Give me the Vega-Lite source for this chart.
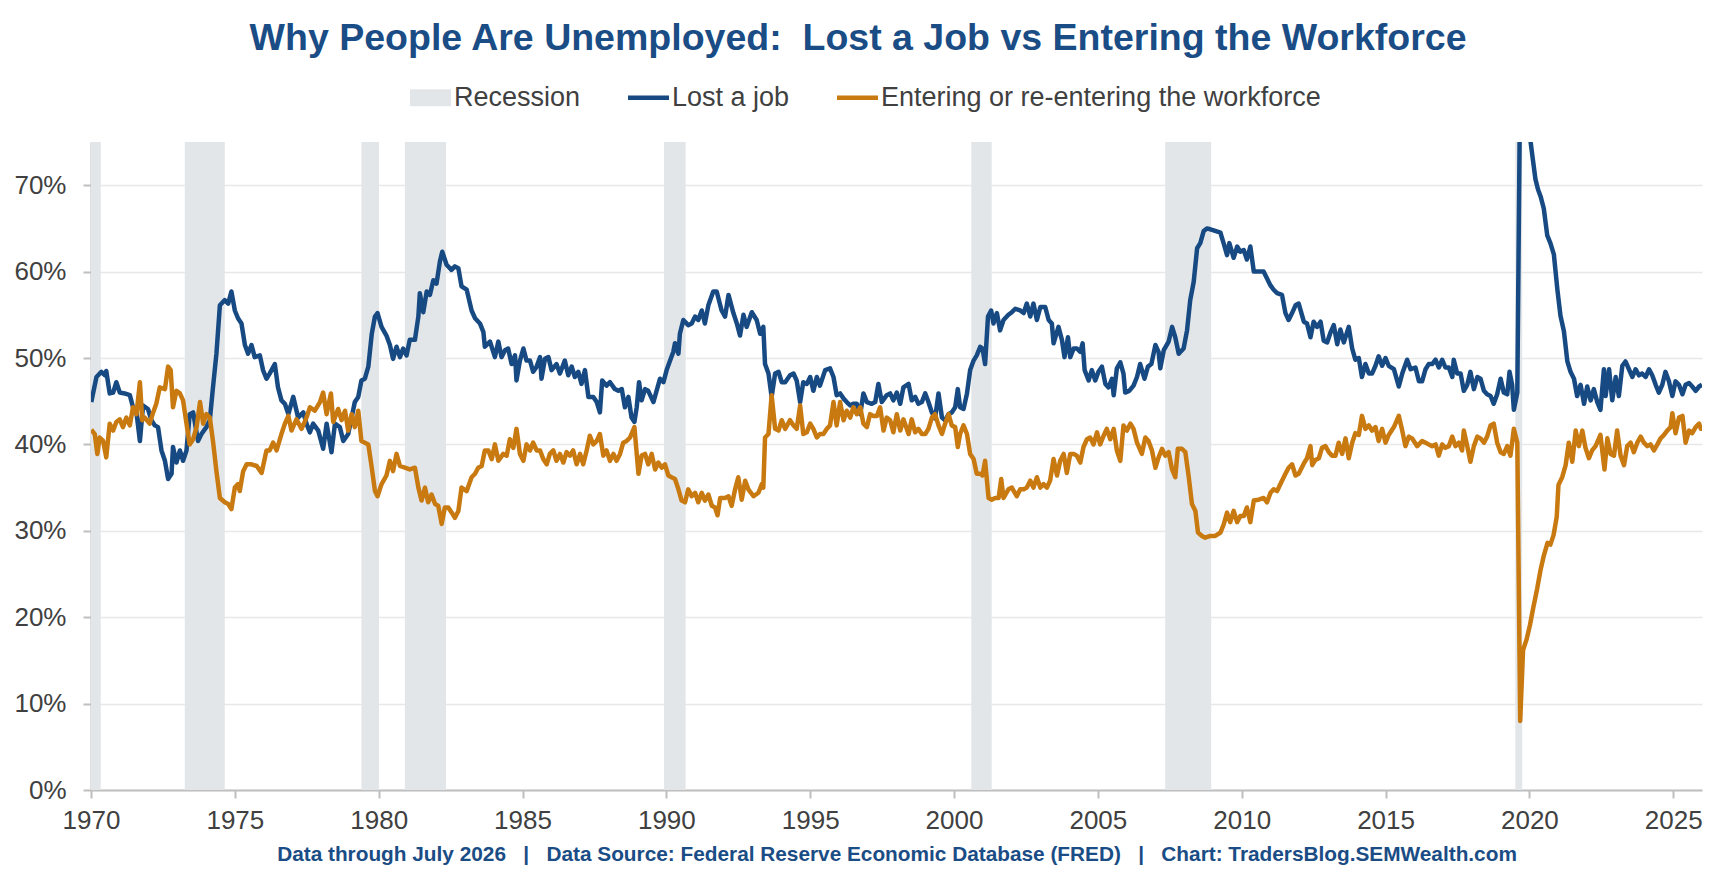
{
  "$schema": "https://vega.github.io/schema/vega-lite/v6.json",
  "description": "Share of the unemployed who lost a job vs who are entering or re-entering the workforce, with recessions shaded.",
  "width": 1611,
  "height": 648,
  "autosize": {"type": "none"},
  "padding": {"left": 91, "top": 142, "right": 23, "bottom": 102},
  "background": "white",
  "config": {
    "view": {"stroke": null},
    "font": "Liberation Sans"
  },
  "title": {
    "text": "Why People Are Unemployed:\u00a0 Lost a Job vs Entering the Workforce",
    "anchor": "middle",
    "frame": "bounds",
    "fontSize": 37.5,
    "fontWeight": "bold",
    "color": "#1a4c85",
    "font": "Liberation Sans",
    "offset": 20
  },
  "datasets": {
    "recessions": [
      {"t": 1970.0, "t2": 1970.34},
      {"t": 1973.26, "t2": 1974.65},
      {"t": 1979.4, "t2": 1980.01},
      {"t": 1980.91, "t2": 1982.34},
      {"t": 1989.92, "t2": 1990.67},
      {"t": 2000.6, "t2": 2001.31},
      {"t": 2007.34, "t2": 2008.94},
      {"t": 2019.51, "t2": 2019.75}
    ],
    "lost": [
      {"t":1970.01,"v":44.9},{"t":1970.19,"v":47.8},{"t":1970.36,"v":48.4},{"t":1970.48,"v":48.0},{"t":1970.53,"v":48.5},{"t":1970.65,"v":45.9},{"t":1970.77,"v":46.0},{"t":1970.88,"v":47.2},{"t":1971.0,"v":46.0},{"t":1971.17,"v":45.9},{"t":1971.35,"v":45.7},{"t":1971.46,"v":44.3},{"t":1971.58,"v":43.7},{"t":1971.7,"v":40.4},{"t":1971.81,"v":44.5},{"t":1971.98,"v":44.1},{"t":1972.1,"v":42.8},{"t":1972.22,"v":42.2},{"t":1972.33,"v":42.0},{"t":1972.45,"v":39.3},{"t":1972.57,"v":38.1},{"t":1972.68,"v":36.0},{"t":1972.8,"v":36.6},{"t":1972.85,"v":39.7},{"t":1972.97,"v":37.9},{"t":1973.09,"v":39.3},{"t":1973.2,"v":38.1},{"t":1973.32,"v":39.3},{"t":1973.43,"v":43.5},{"t":1973.55,"v":43.7},{"t":1973.72,"v":40.4},{"t":1973.84,"v":41.2},{"t":1974.01,"v":42.0},{"t":1974.13,"v":42.8},{"t":1974.24,"v":46.6},{"t":1974.36,"v":50.5},{"t":1974.48,"v":56.1},{"t":1974.65,"v":56.7},{"t":1974.77,"v":56.3},{"t":1974.88,"v":57.7},{"t":1975.0,"v":55.5},{"t":1975.11,"v":54.6},{"t":1975.23,"v":54.0},{"t":1975.35,"v":51.5},{"t":1975.46,"v":50.5},{"t":1975.58,"v":51.5},{"t":1975.69,"v":50.1},{"t":1975.87,"v":50.3},{"t":1975.98,"v":48.6},{"t":1976.1,"v":47.6},{"t":1976.21,"v":48.2},{"t":1976.39,"v":49.3},{"t":1976.5,"v":46.6},{"t":1976.62,"v":45.1},{"t":1976.74,"v":44.7},{"t":1976.86,"v":43.5},{"t":1977.03,"v":45.5},{"t":1977.2,"v":43.1},{"t":1977.38,"v":43.7},{"t":1977.49,"v":42.4},{"t":1977.61,"v":41.4},{"t":1977.72,"v":42.4},{"t":1977.9,"v":41.6},{"t":1978.07,"v":39.5},{"t":1978.19,"v":42.4},{"t":1978.36,"v":39.1},{"t":1978.48,"v":42.4},{"t":1978.65,"v":42.0},{"t":1978.77,"v":40.4},{"t":1978.94,"v":41.2},{"t":1979.06,"v":43.1},{"t":1979.17,"v":44.9},{"t":1979.29,"v":45.5},{"t":1979.4,"v":47.4},{"t":1979.52,"v":47.6},{"t":1979.64,"v":49.0},{"t":1979.76,"v":52.8},{"t":1979.87,"v":54.8},{"t":1979.96,"v":55.2},{"t":1980.1,"v":53.6},{"t":1980.27,"v":52.6},{"t":1980.39,"v":51.5},{"t":1980.5,"v":49.9},{"t":1980.62,"v":51.3},{"t":1980.74,"v":50.1},{"t":1980.85,"v":51.1},{"t":1980.97,"v":50.3},{"t":1981.08,"v":52.1},{"t":1981.26,"v":52.1},{"t":1981.38,"v":54.8},{"t":1981.43,"v":57.5},{"t":1981.55,"v":55.3},{"t":1981.67,"v":57.7},{"t":1981.78,"v":57.3},{"t":1981.9,"v":59.0},{"t":1982.01,"v":58.6},{"t":1982.13,"v":61.2},{"t":1982.21,"v":62.3},{"t":1982.36,"v":60.8},{"t":1982.53,"v":60.2},{"t":1982.65,"v":60.6},{"t":1982.77,"v":60.4},{"t":1982.88,"v":58.3},{"t":1983.06,"v":57.9},{"t":1983.23,"v":55.5},{"t":1983.35,"v":54.6},{"t":1983.52,"v":54.0},{"t":1983.64,"v":53.0},{"t":1983.69,"v":51.3},{"t":1983.87,"v":51.9},{"t":1984.04,"v":50.1},{"t":1984.16,"v":51.9},{"t":1984.27,"v":50.1},
      {"t":1984.39,"v":50.9},{"t":1984.5,"v":51.1},{"t":1984.62,"v":49.3},{"t":1984.74,"v":50.3},{"t":1984.79,"v":47.4},{"t":1984.91,"v":49.7},{"t":1985.03,"v":51.1},{"t":1985.14,"v":49.7},{"t":1985.26,"v":49.7},{"t":1985.37,"v":48.4},{"t":1985.49,"v":49.0},{"t":1985.61,"v":50.1},{"t":1985.66,"v":47.6},{"t":1985.78,"v":49.9},{"t":1985.9,"v":50.1},{"t":1986.01,"v":48.6},{"t":1986.18,"v":49.3},{"t":1986.3,"v":48.2},{"t":1986.47,"v":49.7},{"t":1986.59,"v":48.0},{"t":1986.71,"v":49.0},{"t":1986.82,"v":47.8},{"t":1986.94,"v":48.4},{"t":1987.05,"v":47.0},{"t":1987.17,"v":48.6},{"t":1987.29,"v":45.5},{"t":1987.46,"v":45.5},{"t":1987.58,"v":44.9},{"t":1987.69,"v":43.7},{"t":1987.77,"v":47.4},{"t":1987.92,"v":46.8},{"t":1988.04,"v":47.2},{"t":1988.21,"v":46.4},{"t":1988.33,"v":46.2},{"t":1988.45,"v":46.4},{"t":1988.56,"v":44.3},{"t":1988.68,"v":45.5},{"t":1988.79,"v":43.1},{"t":1988.89,"v":42.6},{"t":1988.97,"v":44.3},{"t":1989.05,"v":47.2},{"t":1989.14,"v":45.1},{"t":1989.26,"v":46.4},{"t":1989.37,"v":46.2},{"t":1989.55,"v":44.9},{"t":1989.66,"v":46.2},{"t":1989.78,"v":47.6},{"t":1989.9,"v":47.2},{"t":1990.01,"v":48.6},{"t":1990.13,"v":49.7},{"t":1990.24,"v":50.7},{"t":1990.3,"v":51.7},{"t":1990.42,"v":50.5},{"t":1990.47,"v":52.8},{"t":1990.59,"v":54.4},{"t":1990.76,"v":53.8},{"t":1990.88,"v":54.0},{"t":1991.0,"v":54.8},{"t":1991.11,"v":54.4},{"t":1991.23,"v":55.5},{"t":1991.34,"v":54.0},{"t":1991.46,"v":56.1},{"t":1991.63,"v":57.7},{"t":1991.75,"v":57.7},{"t":1991.92,"v":55.5},{"t":1992.04,"v":54.8},{"t":1992.16,"v":57.3},{"t":1992.33,"v":55.2},{"t":1992.45,"v":54.0},{"t":1992.56,"v":52.6},{"t":1992.68,"v":55.0},{"t":1992.79,"v":53.6},{"t":1992.97,"v":55.3},{"t":1993.14,"v":54.4},{"t":1993.26,"v":52.8},{"t":1993.37,"v":53.6},{"t":1993.43,"v":49.3},{"t":1993.55,"v":48.2},{"t":1993.66,"v":45.5},{"t":1993.78,"v":48.2},{"t":1993.9,"v":48.4},{"t":1994.01,"v":47.2},{"t":1994.13,"v":47.2},{"t":1994.3,"v":48.0},{"t":1994.42,"v":48.2},{"t":1994.53,"v":47.4},{"t":1994.65,"v":44.9},{"t":1994.76,"v":47.2},{"t":1994.88,"v":47.0},{"t":1995.0,"v":47.8},{"t":1995.11,"v":46.2},{"t":1995.23,"v":47.8},{"t":1995.34,"v":46.8},{"t":1995.52,"v":48.6},{"t":1995.69,"v":48.8},{"t":1995.81,"v":47.8},{"t":1995.92,"v":45.7},{"t":1996.04,"v":45.9},{"t":1996.16,"v":45.3},{"t":1996.27,"v":44.9},{"t":1996.39,"v":44.5},{"t":1996.5,"v":44.7},{"t":1996.62,"v":44.7},{"t":1996.74,"v":43.5},{"t":1996.85,"v":45.9},{"t":1996.97,"v":44.9},{"t":1997.14,"v":44.7},{"t":1997.26,"v":44.9},{"t":1997.37,"v":47.0},{"t":1997.49,"v":44.9},{"t":1997.66,"v":45.7},{"t":1997.78,"v":45.9},{"t":1997.89,"v":45.1},{"t":1998.01,"v":46.0},{"t":1998.13,"v":44.7},{"t":1998.24,"v":46.6},
      {"t":1998.42,"v":47.0},{"t":1998.53,"v":45.1},{"t":1998.65,"v":45.5},{"t":1998.76,"v":44.7},{"t":1998.88,"v":44.9},{"t":1999.0,"v":45.9},{"t":1999.11,"v":44.9},{"t":1999.23,"v":43.7},{"t":1999.34,"v":43.0},{"t":1999.46,"v":45.9},{"t":1999.58,"v":43.1},{"t":1999.69,"v":42.8},{"t":1999.81,"v":43.5},{"t":1999.92,"v":43.7},{"t":2000.04,"v":44.3},{"t":2000.13,"v":46.4},{"t":2000.21,"v":44.3},{"t":2000.33,"v":44.1},{"t":2000.45,"v":45.9},{"t":2000.56,"v":48.6},{"t":2000.68,"v":49.7},{"t":2000.79,"v":50.3},{"t":2000.91,"v":51.3},{"t":2000.99,"v":51.1},{"t":2001.08,"v":49.3},{"t":2001.18,"v":54.8},{"t":2001.29,"v":55.5},{"t":2001.37,"v":54.0},{"t":2001.49,"v":55.2},{"t":2001.6,"v":53.2},{"t":2001.72,"v":54.4},{"t":2001.89,"v":55.0},{"t":2002.01,"v":55.3},{"t":2002.13,"v":55.7},{"t":2002.3,"v":55.5},{"t":2002.42,"v":55.2},{"t":2002.53,"v":56.3},{"t":2002.65,"v":54.8},{"t":2002.76,"v":56.3},{"t":2002.88,"v":54.4},{"t":2003.0,"v":55.9},{"t":2003.17,"v":55.9},{"t":2003.29,"v":54.4},{"t":2003.4,"v":54.0},{"t":2003.46,"v":51.7},{"t":2003.63,"v":53.6},{"t":2003.75,"v":52.1},{"t":2003.84,"v":50.1},{"t":2003.96,"v":52.4},{"t":2004.04,"v":50.1},{"t":2004.16,"v":51.1},{"t":2004.27,"v":51.1},{"t":2004.39,"v":50.7},{"t":2004.47,"v":51.7},{"t":2004.54,"v":48.6},{"t":2004.68,"v":47.4},{"t":2004.79,"v":48.6},{"t":2004.91,"v":47.4},{"t":2005.02,"v":48.4},{"t":2005.14,"v":49.0},{"t":2005.26,"v":47.0},{"t":2005.37,"v":46.6},{"t":2005.49,"v":47.6},{"t":2005.55,"v":45.7},{"t":2005.66,"v":48.8},{"t":2005.78,"v":49.5},{"t":2005.89,"v":48.2},{"t":2005.95,"v":46.0},{"t":2006.09,"v":46.2},{"t":2006.24,"v":46.8},{"t":2006.36,"v":47.8},{"t":2006.47,"v":49.3},{"t":2006.62,"v":47.6},{"t":2006.74,"v":49.0},{"t":2006.86,"v":49.3},{"t":2007.0,"v":51.5},{"t":2007.11,"v":50.7},{"t":2007.17,"v":48.8},{"t":2007.29,"v":50.9},{"t":2007.46,"v":51.9},{"t":2007.58,"v":53.6},{"t":2007.69,"v":52.4},{"t":2007.81,"v":50.5},{"t":2007.98,"v":51.1},{"t":2008.1,"v":53.2},{"t":2008.21,"v":56.7},{"t":2008.33,"v":58.8},{"t":2008.45,"v":62.7},{"t":2008.56,"v":63.3},{"t":2008.68,"v":64.7},{"t":2008.79,"v":65.0},{"t":2008.91,"v":64.9},{"t":2009.08,"v":64.7},{"t":2009.26,"v":64.5},{"t":2009.37,"v":63.3},{"t":2009.49,"v":61.9},{"t":2009.57,"v":63.3},{"t":2009.72,"v":61.6},{"t":2009.84,"v":62.9},{"t":2009.95,"v":62.3},{"t":2010.07,"v":62.5},{"t":2010.18,"v":61.4},{"t":2010.3,"v":62.9},{"t":2010.42,"v":60.0},{"t":2010.59,"v":60.0},{"t":2010.76,"v":60.0},{"t":2010.88,"v":59.2},{"t":2011.0,"v":58.4},{"t":2011.11,"v":57.9},{"t":2011.23,"v":57.5},{"t":2011.4,"v":57.3},{"t":2011.52,"v":55.2},{"t":2011.63,"v":54.4},{"t":2011.75,"v":55.2},{"t":2011.87,"v":56.1},{"t":2011.98,"v":56.3},
      {"t":2012.16,"v":54.2},{"t":2012.27,"v":54.0},{"t":2012.39,"v":52.4},{"t":2012.5,"v":54.2},{"t":2012.62,"v":53.6},{"t":2012.74,"v":54.2},{"t":2012.85,"v":52.0},{"t":2012.97,"v":51.8},{"t":2013.08,"v":52.9},{"t":2013.2,"v":53.8},{"t":2013.32,"v":51.6},{"t":2013.43,"v":53.3},{"t":2013.55,"v":51.8},{"t":2013.72,"v":53.6},{"t":2013.84,"v":51.1},{"t":2013.95,"v":49.8},{"t":2014.07,"v":50.0},{"t":2014.18,"v":47.8},{"t":2014.3,"v":49.3},{"t":2014.42,"v":48.2},{"t":2014.53,"v":48.2},{"t":2014.65,"v":49.1},{"t":2014.76,"v":50.2},{"t":2014.88,"v":49.1},{"t":2015.0,"v":50.0},{"t":2015.11,"v":49.1},{"t":2015.29,"v":48.7},{"t":2015.46,"v":46.7},{"t":2015.58,"v":48.2},{"t":2015.75,"v":49.8},{"t":2015.87,"v":48.7},{"t":2016.04,"v":48.9},{"t":2016.16,"v":47.3},{"t":2016.27,"v":47.3},{"t":2016.39,"v":48.7},{"t":2016.5,"v":49.3},{"t":2016.62,"v":49.3},{"t":2016.74,"v":49.8},{"t":2016.85,"v":48.9},{"t":2016.97,"v":49.8},{"t":2017.08,"v":48.9},{"t":2017.2,"v":48.9},{"t":2017.32,"v":47.8},{"t":2017.37,"v":49.8},{"t":2017.49,"v":48.2},{"t":2017.61,"v":48.2},{"t":2017.72,"v":46.2},{"t":2017.84,"v":46.9},{"t":2017.95,"v":48.4},{"t":2018.07,"v":46.4},{"t":2018.19,"v":47.8},{"t":2018.3,"v":47.6},{"t":2018.42,"v":46.2},{"t":2018.53,"v":45.8},{"t":2018.65,"v":45.6},{"t":2018.76,"v":44.7},{"t":2018.88,"v":45.8},{"t":2019.0,"v":47.6},{"t":2019.11,"v":46.0},{"t":2019.23,"v":45.8},{"t":2019.31,"v":48.4},{"t":2019.4,"v":46.9},{"t":2019.46,"v":44.0},{"t":2019.58,"v":46.0},{"t":2019.67,"v":79.0},{"t":2019.76,"v":78.5},{"t":2019.85,"v":77.5},{"t":2019.93,"v":76.8},{"t":2020.02,"v":75.6},{"t":2020.1,"v":73.5},{"t":2020.21,"v":70.7},{"t":2020.3,"v":69.5},{"t":2020.39,"v":68.7},{"t":2020.5,"v":67.3},{"t":2020.62,"v":64.2},{"t":2020.73,"v":63.3},{"t":2020.85,"v":62.0},{"t":2020.97,"v":58.0},{"t":2021.08,"v":54.9},{"t":2021.2,"v":53.1},{"t":2021.32,"v":49.6},{"t":2021.43,"v":48.4},{"t":2021.55,"v":47.6},{"t":2021.66,"v":45.6},{"t":2021.78,"v":46.9},{"t":2021.9,"v":44.7},{"t":2022.01,"v":46.7},{"t":2022.13,"v":45.1},{"t":2022.24,"v":46.4},{"t":2022.36,"v":44.9},{"t":2022.47,"v":44.0},{"t":2022.59,"v":48.7},{"t":2022.65,"v":45.6},{"t":2022.77,"v":48.7},{"t":2022.88,"v":45.1},{"t":2023.0,"v":47.8},{"t":2023.11,"v":45.6},{"t":2023.23,"v":49.1},{"t":2023.34,"v":49.6},{"t":2023.46,"v":48.7},{"t":2023.58,"v":47.8},{"t":2023.69,"v":48.7},{"t":2023.81,"v":48.0},{"t":2023.92,"v":48.2},{"t":2024.04,"v":47.8},{"t":2024.16,"v":48.7},{"t":2024.27,"v":48.0},{"t":2024.39,"v":46.9},{"t":2024.5,"v":46.0},{"t":2024.62,"v":46.9},{"t":2024.73,"v":48.4},{"t":2024.85,"v":47.3},{"t":2024.97,"v":45.6},{"t":2025.08,"v":47.3},{"t":2025.2,"v":46.9},{"t":2025.32,"v":45.8},{"t":2025.43,"v":46.9},{"t":2025.55,"v":47.1},{"t":2025.66,"v":46.7},{"t":2025.78,"v":46.2},{"t":2025.9,"v":46.7},{"t":2026.0,"v":46.9}
    ],
    "entering": [
      {"t":1970.01,"v":41.7},{"t":1970.13,"v":41.2},{"t":1970.22,"v":38.9},{"t":1970.3,"v":40.8},{"t":1970.42,"v":40.4},{"t":1970.53,"v":38.5},{"t":1970.65,"v":42.4},{"t":1970.77,"v":41.6},{"t":1970.88,"v":42.6},{"t":1971.0,"v":42.9},{"t":1971.11,"v":42.0},{"t":1971.23,"v":43.1},{"t":1971.35,"v":42.2},{"t":1971.46,"v":44.3},{"t":1971.58,"v":43.5},{"t":1971.7,"v":47.2},{"t":1971.78,"v":42.8},{"t":1971.87,"v":43.1},{"t":1972.04,"v":42.4},{"t":1972.16,"v":43.7},{"t":1972.27,"v":44.7},{"t":1972.39,"v":46.6},{"t":1972.57,"v":46.4},{"t":1972.68,"v":49.0},{"t":1972.77,"v":48.6},{"t":1972.85,"v":44.3},{"t":1972.97,"v":46.2},{"t":1973.09,"v":45.9},{"t":1973.2,"v":45.1},{"t":1973.32,"v":42.4},{"t":1973.43,"v":40.0},{"t":1973.55,"v":40.6},{"t":1973.67,"v":42.0},{"t":1973.79,"v":44.9},{"t":1973.9,"v":42.4},{"t":1974.01,"v":43.5},{"t":1974.13,"v":43.1},{"t":1974.24,"v":40.4},{"t":1974.36,"v":36.9},{"t":1974.48,"v":33.8},{"t":1974.65,"v":33.3},{"t":1974.77,"v":33.1},{"t":1974.88,"v":32.5},{"t":1975.0,"v":35.0},{"t":1975.11,"v":35.4},{"t":1975.17,"v":34.6},{"t":1975.29,"v":36.9},{"t":1975.41,"v":37.7},{"t":1975.58,"v":37.7},{"t":1975.76,"v":37.5},{"t":1975.93,"v":36.7},{"t":1976.1,"v":39.3},{"t":1976.21,"v":39.3},{"t":1976.33,"v":40.2},{"t":1976.45,"v":39.3},{"t":1976.62,"v":41.2},{"t":1976.74,"v":42.4},{"t":1976.86,"v":43.3},{"t":1976.97,"v":41.6},{"t":1977.14,"v":42.9},{"t":1977.32,"v":41.8},{"t":1977.49,"v":43.1},{"t":1977.61,"v":44.3},{"t":1977.78,"v":43.9},{"t":1977.96,"v":44.9},{"t":1978.07,"v":46.0},{"t":1978.19,"v":43.5},{"t":1978.34,"v":45.9},{"t":1978.42,"v":42.6},{"t":1978.59,"v":44.1},{"t":1978.71,"v":42.8},{"t":1978.83,"v":43.9},{"t":1978.94,"v":41.6},{"t":1979.06,"v":43.5},{"t":1979.17,"v":42.0},{"t":1979.29,"v":43.9},{"t":1979.4,"v":40.4},{"t":1979.52,"v":40.2},{"t":1979.64,"v":40.0},{"t":1979.76,"v":37.3},{"t":1979.87,"v":34.6},{"t":1979.96,"v":34.0},{"t":1980.1,"v":35.4},{"t":1980.27,"v":36.4},{"t":1980.39,"v":38.1},{"t":1980.5,"v":36.9},{"t":1980.62,"v":38.9},{"t":1980.74,"v":37.5},{"t":1980.91,"v":37.3},{"t":1981.08,"v":37.1},{"t":1981.26,"v":37.3},{"t":1981.38,"v":35.0},{"t":1981.49,"v":33.5},{"t":1981.61,"v":35.0},{"t":1981.72,"v":33.3},{"t":1981.84,"v":34.2},{"t":1981.96,"v":33.1},{"t":1982.07,"v":32.9},{"t":1982.19,"v":30.8},{"t":1982.3,"v":32.7},{"t":1982.42,"v":32.7},{"t":1982.54,"v":32.1},{"t":1982.65,"v":31.5},{"t":1982.77,"v":32.3},{"t":1982.88,"v":35.0},{"t":1983.06,"v":34.6},{"t":1983.23,"v":36.2},{"t":1983.35,"v":36.6},{"t":1983.46,"v":37.3},{"t":1983.58,"v":37.5},{"t":1983.69,"v":39.3},{"t":1983.81,"v":39.3},{"t":1983.93,"v":38.3},{"t":1984.04,"v":40.0},{"t":1984.16,"v":38.1},{"t":1984.33,"v":38.9},
      {"t":1984.45,"v":38.7},{"t":1984.56,"v":40.6},{"t":1984.68,"v":39.6},{"t":1984.79,"v":41.8},{"t":1984.91,"v":38.9},{"t":1985.03,"v":38.1},{"t":1985.14,"v":40.0},{"t":1985.26,"v":39.3},{"t":1985.37,"v":40.2},{"t":1985.49,"v":39.3},{"t":1985.61,"v":39.3},{"t":1985.72,"v":38.3},{"t":1985.84,"v":37.7},{"t":1985.95,"v":38.9},{"t":1986.07,"v":39.3},{"t":1986.18,"v":38.1},{"t":1986.3,"v":38.9},{"t":1986.42,"v":37.9},{"t":1986.53,"v":39.1},{"t":1986.65,"v":38.7},{"t":1986.76,"v":39.3},{"t":1986.88,"v":37.7},{"t":1987.0,"v":38.9},{"t":1987.11,"v":37.7},{"t":1987.23,"v":39.3},{"t":1987.34,"v":41.0},{"t":1987.46,"v":40.0},{"t":1987.58,"v":40.4},{"t":1987.69,"v":41.2},{"t":1987.81,"v":38.7},{"t":1987.92,"v":39.3},{"t":1988.04,"v":38.1},{"t":1988.16,"v":38.9},{"t":1988.27,"v":38.1},{"t":1988.39,"v":38.9},{"t":1988.5,"v":40.2},{"t":1988.62,"v":40.4},{"t":1988.74,"v":40.8},{"t":1988.89,"v":42.0},{"t":1988.97,"v":38.9},{"t":1989.03,"v":36.6},{"t":1989.14,"v":38.7},{"t":1989.26,"v":38.9},{"t":1989.37,"v":37.7},{"t":1989.49,"v":38.9},{"t":1989.61,"v":37.1},{"t":1989.72,"v":37.9},{"t":1989.84,"v":37.3},{"t":1989.95,"v":37.7},{"t":1990.07,"v":36.4},{"t":1990.18,"v":36.2},{"t":1990.3,"v":36.0},{"t":1990.42,"v":34.8},{"t":1990.53,"v":33.5},{"t":1990.65,"v":33.3},{"t":1990.76,"v":34.8},{"t":1990.88,"v":34.0},{"t":1991.0,"v":34.4},{"t":1991.11,"v":33.3},{"t":1991.23,"v":34.4},{"t":1991.34,"v":33.5},{"t":1991.46,"v":34.2},{"t":1991.58,"v":32.9},{"t":1991.69,"v":32.7},{"t":1991.78,"v":31.8},{"t":1991.87,"v":33.8},{"t":1992.04,"v":33.8},{"t":1992.16,"v":34.0},{"t":1992.27,"v":32.9},{"t":1992.39,"v":34.8},{"t":1992.5,"v":36.2},{"t":1992.62,"v":33.6},{"t":1992.74,"v":35.8},{"t":1992.85,"v":34.8},{"t":1993.03,"v":34.0},{"t":1993.2,"v":34.4},{"t":1993.32,"v":35.4},{"t":1993.37,"v":35.0},{"t":1993.43,"v":40.8},{"t":1993.55,"v":41.2},{"t":1993.66,"v":45.7},{"t":1993.78,"v":41.8},{"t":1993.9,"v":41.6},{"t":1994.01,"v":42.8},{"t":1994.13,"v":41.8},{"t":1994.3,"v":42.8},{"t":1994.42,"v":42.2},{"t":1994.53,"v":41.8},{"t":1994.65,"v":44.5},{"t":1994.76,"v":41.2},{"t":1994.88,"v":41.4},{"t":1995.0,"v":42.4},{"t":1995.11,"v":41.8},{"t":1995.23,"v":40.8},{"t":1995.34,"v":41.2},{"t":1995.46,"v":41.2},{"t":1995.58,"v":41.8},{"t":1995.69,"v":42.2},{"t":1995.81,"v":44.9},{"t":1995.92,"v":42.2},{"t":1996.04,"v":44.9},{"t":1996.16,"v":42.8},{"t":1996.27,"v":43.9},{"t":1996.39,"v":43.1},{"t":1996.5,"v":44.3},{"t":1996.62,"v":43.5},{"t":1996.74,"v":44.3},{"t":1996.85,"v":42.4},{"t":1996.97,"v":42.0},{"t":1997.08,"v":43.5},{"t":1997.2,"v":43.3},{"t":1997.32,"v":43.3},{"t":1997.43,"v":44.3},{"t":1997.55,"v":41.6},{"t":1997.66,"v":43.1},{"t":1997.78,"v":42.8},{"t":1997.89,"v":41.4},{"t":1998.01,"v":43.5},{"t":1998.13,"v":41.6},{"t":1998.24,"v":42.9},
      {"t":1998.42,"v":41.2},{"t":1998.53,"v":42.9},{"t":1998.65,"v":41.4},{"t":1998.76,"v":41.8},{"t":1998.88,"v":41.2},{"t":1999.0,"v":41.2},{"t":1999.11,"v":41.8},{"t":1999.23,"v":43.1},{"t":1999.34,"v":43.5},{"t":1999.46,"v":42.2},{"t":1999.58,"v":41.2},{"t":1999.69,"v":42.4},{"t":1999.81,"v":43.5},{"t":1999.92,"v":42.2},{"t":2000.04,"v":42.0},{"t":2000.13,"v":39.7},{"t":2000.21,"v":41.2},{"t":2000.33,"v":42.2},{"t":2000.45,"v":41.2},{"t":2000.56,"v":38.9},{"t":2000.68,"v":38.3},{"t":2000.79,"v":36.6},{"t":2000.91,"v":36.6},{"t":2000.99,"v":36.4},{"t":2001.08,"v":38.1},{"t":2001.2,"v":33.8},{"t":2001.31,"v":33.6},{"t":2001.43,"v":33.8},{"t":2001.55,"v":33.8},{"t":2001.64,"v":36.0},{"t":2001.72,"v":33.8},{"t":2001.89,"v":34.8},{"t":2002.01,"v":35.0},{"t":2002.18,"v":34.0},{"t":2002.3,"v":34.8},{"t":2002.42,"v":34.8},{"t":2002.53,"v":35.0},{"t":2002.65,"v":35.8},{"t":2002.76,"v":35.0},{"t":2002.88,"v":36.2},{"t":2003.0,"v":35.0},{"t":2003.11,"v":35.4},{"t":2003.23,"v":35.0},{"t":2003.34,"v":35.8},{"t":2003.46,"v":38.3},{"t":2003.58,"v":36.4},{"t":2003.69,"v":38.1},{"t":2003.81,"v":38.9},{"t":2003.92,"v":36.7},{"t":2004.04,"v":38.9},{"t":2004.16,"v":38.9},{"t":2004.27,"v":38.7},{"t":2004.39,"v":37.9},{"t":2004.5,"v":39.7},{"t":2004.62,"v":40.6},{"t":2004.73,"v":40.8},{"t":2004.85,"v":40.0},{"t":2004.97,"v":41.4},{"t":2005.08,"v":40.0},{"t":2005.2,"v":41.0},{"t":2005.31,"v":41.8},{"t":2005.43,"v":40.6},{"t":2005.55,"v":41.8},{"t":2005.66,"v":39.3},{"t":2005.78,"v":38.1},{"t":2005.89,"v":42.2},{"t":2006.01,"v":41.6},{"t":2006.13,"v":42.4},{"t":2006.24,"v":41.8},{"t":2006.36,"v":40.2},{"t":2006.53,"v":38.9},{"t":2006.65,"v":40.8},{"t":2006.76,"v":40.4},{"t":2006.88,"v":39.3},{"t":2007.0,"v":37.3},{"t":2007.11,"v":38.5},{"t":2007.23,"v":39.5},{"t":2007.34,"v":38.7},{"t":2007.46,"v":39.1},{"t":2007.58,"v":37.1},{"t":2007.69,"v":36.2},{"t":2007.78,"v":39.5},{"t":2007.92,"v":39.5},{"t":2008.04,"v":39.1},{"t":2008.16,"v":36.2},{"t":2008.27,"v":33.1},{"t":2008.39,"v":32.3},{"t":2008.48,"v":29.8},{"t":2008.62,"v":29.4},{"t":2008.73,"v":29.2},{"t":2008.91,"v":29.4},{"t":2009.08,"v":29.4},{"t":2009.26,"v":29.8},{"t":2009.37,"v":30.7},{"t":2009.49,"v":32.1},{"t":2009.6,"v":31.0},{"t":2009.72,"v":32.3},{"t":2009.84,"v":31.0},{"t":2009.95,"v":31.7},{"t":2010.07,"v":31.7},{"t":2010.18,"v":32.7},{"t":2010.3,"v":31.0},{"t":2010.42,"v":33.5},{"t":2010.59,"v":33.6},{"t":2010.76,"v":33.8},{"t":2010.88,"v":33.3},{"t":2011.0,"v":34.4},{"t":2011.11,"v":34.8},{"t":2011.23,"v":34.6},{"t":2011.4,"v":35.8},{"t":2011.52,"v":36.6},{"t":2011.63,"v":37.3},{"t":2011.75,"v":37.7},{"t":2011.87,"v":36.4},{"t":2011.98,"v":36.6},
      {"t":2012.16,"v":37.8},{"t":2012.27,"v":38.4},{"t":2012.39,"v":39.8},{"t":2012.45,"v":37.6},{"t":2012.56,"v":38.2},{"t":2012.68,"v":38.4},{"t":2012.79,"v":39.6},{"t":2012.91,"v":39.8},{"t":2013.03,"v":39.1},{"t":2013.14,"v":38.7},{"t":2013.26,"v":38.7},{"t":2013.37,"v":40.2},{"t":2013.49,"v":38.9},{"t":2013.61,"v":40.7},{"t":2013.72,"v":38.4},{"t":2013.84,"v":40.2},{"t":2013.95,"v":41.3},{"t":2014.07,"v":41.1},{"t":2014.18,"v":43.3},{"t":2014.3,"v":41.8},{"t":2014.42,"v":42.2},{"t":2014.53,"v":41.6},{"t":2014.65,"v":42.0},{"t":2014.76,"v":40.4},{"t":2014.88,"v":41.8},{"t":2015.0,"v":40.2},{"t":2015.11,"v":41.1},{"t":2015.29,"v":42.0},{"t":2015.46,"v":43.3},{"t":2015.58,"v":41.6},{"t":2015.69,"v":39.8},{"t":2015.81,"v":40.9},{"t":2015.92,"v":40.7},{"t":2016.1,"v":39.8},{"t":2016.27,"v":40.4},{"t":2016.39,"v":40.2},{"t":2016.5,"v":40.0},{"t":2016.62,"v":39.8},{"t":2016.74,"v":40.0},{"t":2016.85,"v":38.7},{"t":2016.97,"v":40.0},{"t":2017.08,"v":39.6},{"t":2017.2,"v":39.8},{"t":2017.32,"v":40.9},{"t":2017.43,"v":39.8},{"t":2017.55,"v":40.2},{"t":2017.66,"v":39.3},{"t":2017.72,"v":41.6},{"t":2017.84,"v":39.8},{"t":2017.95,"v":38.0},{"t":2018.07,"v":39.8},{"t":2018.19,"v":40.9},{"t":2018.3,"v":40.7},{"t":2018.42,"v":40.2},{"t":2018.53,"v":40.9},{"t":2018.65,"v":42.2},{"t":2018.76,"v":42.4},{"t":2018.88,"v":40.2},{"t":2019.0,"v":39.1},{"t":2019.11,"v":38.9},{"t":2019.23,"v":39.8},{"t":2019.34,"v":38.7},{"t":2019.4,"v":40.2},{"t":2019.46,"v":41.8},{"t":2019.58,"v":40.2},{"t":2019.68,"v":8.0},{"t":2019.78,"v":16.2},{"t":2019.9,"v":17.4},{"t":2020.02,"v":19.1},{"t":2020.14,"v":21.2},{"t":2020.27,"v":23.3},{"t":2020.39,"v":25.5},{"t":2020.5,"v":27.1},{"t":2020.63,"v":28.6},{"t":2020.73,"v":28.4},{"t":2020.84,"v":29.5},{"t":2020.95,"v":31.6},{"t":2021.01,"v":35.3},{"t":2021.14,"v":36.2},{"t":2021.26,"v":37.6},{"t":2021.37,"v":40.2},{"t":2021.49,"v":38.0},{"t":2021.61,"v":41.6},{"t":2021.72,"v":39.8},{"t":2021.84,"v":41.6},{"t":2021.95,"v":39.6},{"t":2022.07,"v":38.4},{"t":2022.18,"v":39.3},{"t":2022.3,"v":39.8},{"t":2022.47,"v":41.1},{"t":2022.61,"v":37.1},{"t":2022.71,"v":40.7},{"t":2022.82,"v":38.9},{"t":2022.94,"v":38.7},{"t":2023.05,"v":41.6},{"t":2023.17,"v":38.7},{"t":2023.29,"v":37.6},{"t":2023.4,"v":39.8},{"t":2023.52,"v":40.2},{"t":2023.63,"v":39.1},{"t":2023.75,"v":40.2},{"t":2023.87,"v":40.9},{"t":2023.98,"v":40.2},{"t":2024.1,"v":39.8},{"t":2024.21,"v":40.0},{"t":2024.33,"v":39.3},{"t":2024.45,"v":40.0},{"t":2024.56,"v":40.7},{"t":2024.68,"v":41.1},{"t":2024.79,"v":41.6},{"t":2024.91,"v":42.0},{"t":2024.97,"v":43.6},{"t":2025.08,"v":41.3},{"t":2025.2,"v":43.1},{"t":2025.32,"v":43.3},{"t":2025.43,"v":40.2},{"t":2025.55,"v":41.6},{"t":2025.66,"v":41.3},{"t":2025.78,"v":42.0},{"t":2025.9,"v":42.4},{"t":2025.96,"v":41.8},{"t":2026.0,"v":41.8}
    ]
  },
  "encoding": {
    "x": {
      "field": "t",
      "type": "quantitative",
      "scale": {"domain": [1970, 2026], "nice": false, "zero": false},
      "axis": {
        "values": [1970, 1975, 1980, 1985, 1990, 1995, 2000, 2005, 2010, 2015, 2020, 2025],
        "format": "d",
        "grid": false,
        "domainColor": "#bfbfbf",
        "domainWidth": 2,
        "tickColor": "#bfbfbf",
        "tickWidth": 2,
        "tickSize": 8,
        "labelFont": "Liberation Sans",
        "labelFontSize": 26,
        "labelColor": "#404040",
        "labelPadding": 9,
        "labelFlush": false,
        "title": "Data through July 2026\u00a0\u00a0\u00a0|\u00a0\u00a0\u00a0Data Source: Federal Reserve Economic Database (FRED)\u00a0\u00a0\u00a0|\u00a0\u00a0\u00a0Chart: TradersBlog.SEMWealth.com",
        "titleFont": "Liberation Sans",
        "titleFontSize": 20.8,
        "titleFontWeight": "bold",
        "titleColor": "#1a4c85",
        "titlePadding": 11
      }
    }
  },
  "layer": [
    {
      "data": {"name": "recessions"},
      "mark": {"type": "rect", "color": "#e3e6e9"},
      "encoding": {
        "x2": {"field": "t2"},
        "color": {
          "datum": "Recession",
          "type": "nominal",
          "scale": {
            "domain": ["Recession", "Lost a job", "Entering or re-entering the workforce"],
            "range": ["#e3e6e9", "#174a82", "#c8790f"]
          },
          "legend": {
            "orient": "none",
            "legendX": 319,
            "legendY": -65,
            "direction": "horizontal",
            "title": null,
            "symbolType": "M-1,-0.41H1V0.41H-1Z",
            "symbolSize": 1681,
            "labelFont": "Liberation Sans",
            "labelFontSize": 27,
            "labelColor": "#404040",
            "labelLimit": 1000,
            "labelOffset": 3,
            "columnPadding": 47,
            "encode": {
              "symbols": {
                "update": {
                  "shape": {"signal": "datum.value === 'Recession' ? 'M-1,-0.41H1V0.41H-1Z' : 'M-1,-0.41M-1,0.41M-1,-0.11H1V0.11H-1Z'"},
                  "fill": {"signal": "scale('color', datum.value)"},
                  "strokeWidth": {"value": 0},
                  "opacity": {"value": 1}
                }
              }
            }
          }
        }
      }
    },
    {
      "data": {"name": "lost"},
      "mark": {"type": "line", "strokeWidth": 4.5, "clip": true, "strokeJoin": "round"},
      "encoding": {
        "y": {
          "field": "v",
          "type": "quantitative",
          "scale": {"domain": [0, 75], "nice": false},
          "axis": {
            "values": [0, 10, 20, 30, 40, 50, 60, 70],
            "labelExpr": "datum.value + '%'",
            "grid": true,
            "gridColor": "#e8e8e8",
            "gridWidth": 1.5,
            "domainColor": "#bfbfbf",
            "domainWidth": 2,
            "tickColor": "#bfbfbf",
            "tickWidth": 2,
            "tickSize": 8,
            "labelFont": "Liberation Sans",
            "labelFontSize": 26,
            "labelColor": "#404040",
            "labelPadding": 17,
            "title": null
          }
        },
        "color": {"datum": "Lost a job", "type": "nominal"}
      }
    },
    {
      "data": {"name": "entering"},
      "mark": {"type": "line", "strokeWidth": 4.5, "clip": true, "strokeJoin": "round"},
      "encoding": {
        "y": {
          "field": "v",
          "type": "quantitative",
          "scale": {"domain": [0, 75], "nice": false},
          "axis": {
            "values": [0, 10, 20, 30, 40, 50, 60, 70],
            "labelExpr": "datum.value + '%'",
            "grid": true,
            "gridColor": "#e8e8e8",
            "gridWidth": 1.5,
            "domainColor": "#bfbfbf",
            "domainWidth": 2,
            "tickColor": "#bfbfbf",
            "tickWidth": 2,
            "tickSize": 8,
            "labelFont": "Liberation Sans",
            "labelFontSize": 26,
            "labelColor": "#404040",
            "labelPadding": 17,
            "title": null
          }
        },
        "color": {"datum": "Entering or re-entering the workforce", "type": "nominal"}
      }
    }
  ]
}
